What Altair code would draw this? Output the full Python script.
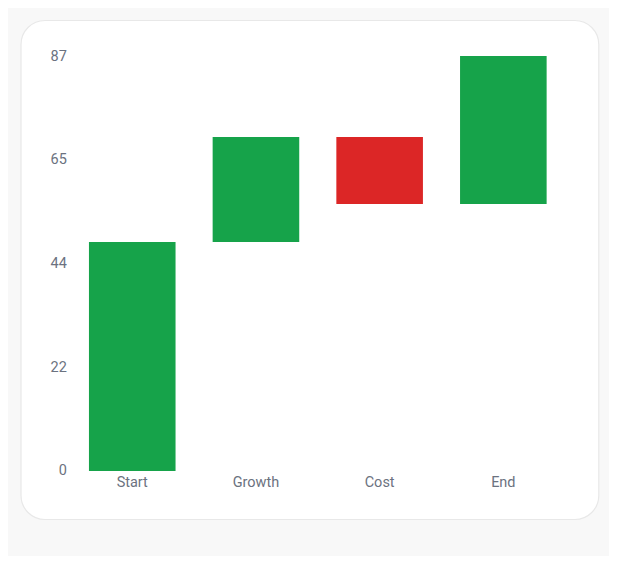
import altair as alt
import pandas as pd

categories = ["Start", "Growth", "Cost", "End"]
starts = [0, 48, 70, 56]
ends = [48, 70, 56, 87]
kinds = ["up", "up", "down", "up"]
tick_values = [0, 21.75, 43.5, 65.25, 87]

df = pd.DataFrame({"cat": categories, "y0": starts, "y1": ends, "kind": kinds})

W, H = 494.8, 415
card = alt.Chart(alt.Data(values=[{"c": 1}])).mark_rect(
    fill="white", stroke="#e8e8e8", strokeWidth=1.2, cornerRadius=24
).encode(
    x=alt.value(-49.4), x2=alt.value(528.4),
    y=alt.value(-35.5), y2=alt.value(463.5),
)

bars = alt.Chart(df).mark_bar().encode(
    x=alt.X("cat:N", sort=categories, title=None,
            scale=alt.Scale(paddingInner=0.3, paddingOuter=0.15),
            axis=alt.Axis(labelAngle=0, domain=False, ticks=False, labelPadding=5,
                          labelFont="Roboto", labelFontSize=14.5, labelColor="#6b7280",
                          zindex=1)),
    y=alt.Y("y0:Q", title=None, scale=alt.Scale(domain=[0, 87], nice=False),
            axis=alt.Axis(values=tick_values, format=".0f", domain=False, ticks=False,
                          grid=False, labelPadding=4, labelFont="Roboto",
                          labelFontSize=14.5, labelColor="#6b7280", zindex=1)),
    y2="y1:Q",
    color=alt.Color("kind:N", scale=alt.Scale(domain=["up", "down"], range=["#16a34a", "#dc2626"]),
                    legend=None),
)

chart = alt.layer(card, bars).properties(
    width=W, height=H,
    autosize=alt.AutoSizeParams(type="none"),
    padding={"left": 62.4, "top": 48, "right": 44, "bottom": 85},
    background="#f8f8f8",
).configure_view(stroke=None)

chart.save("out.html", embed_options={"renderer": "svg", "actions": False})
